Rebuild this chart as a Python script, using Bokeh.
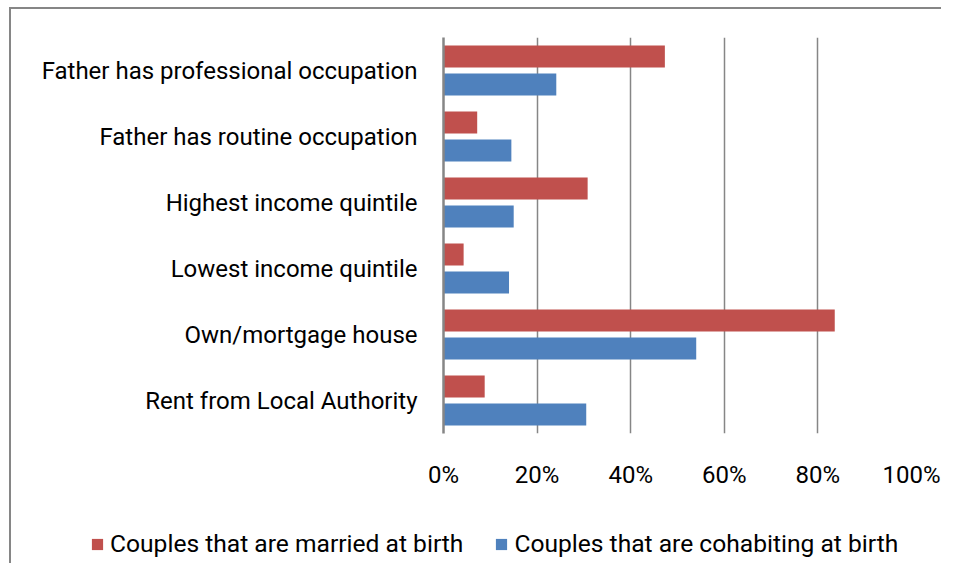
from bokeh.plotting import figure
from bokeh.layouts import column
from bokeh.models import (ColumnDataSource, FactorRange, Range1d, Legend, LegendItem,
                          PrintfTickFormatter, FixedTicker)
from bokeh.transform import dodge
from bokeh.embed import file_html
from bokeh.resources import INLINE

categories = ["Father has professional occupation", "Father has routine occupation",
              "Highest income quintile", "Lowest income quintile",
              "Own/mortgage house", "Rent from Local Authority"]
married = [47.3, 7.2, 30.8, 4.3, 83.6, 8.8]
cohabiting = [24.1, 14.5, 15.0, 14.0, 54.0, 30.5]
x_ticks = [0, 20, 40, 60, 80, 100]
series_names = ["Couples that are married at birth", "Couples that are cohabiting at birth"]

FONT = "Roboto"
FS = "24px"
RED = "#C0504D"
BLUE = "#4F81BD"
GRID = "#868686"

src = ColumnDataSource(dict(cat=categories, married=married, cohabiting=cohabiting))

p = figure(width=930, height=493, output_backend="svg", toolbar_location=None,
           y_range=FactorRange(factors=categories[::-1], range_padding=0),
           x_range=Range1d(0, 100),
           min_border_left=432, min_border_top=28, min_border_right=30, min_border_bottom=69)
p.frame_align = False

p.hbar(y=dodge("cat", 0.212, range=p.y_range), right="married", left=0, height=0.333,
       source=src, fill_color=RED, line_color=None)
p.hbar(y=dodge("cat", -0.212, range=p.y_range), right="cohabiting", left=0, height=0.333,
       source=src, fill_color=BLUE, line_color=None)

p.outline_line_color = None
p.background_fill_color = "white"
p.border_fill_color = "white"

p.ygrid.grid_line_color = None
p.xgrid.grid_line_color = GRID
p.xgrid.grid_line_width = 1.5
p.xaxis.ticker = FixedTicker(ticks=x_ticks)
p.xaxis.formatter = PrintfTickFormatter(format="%d%%")
p.xaxis.axis_line_color = None
p.xaxis.major_tick_line_color = None
p.xaxis.minor_tick_line_color = None
p.xaxis.major_label_standoff = 21
p.xaxis.major_label_text_font = FONT
p.xaxis.major_label_text_font_size = FS
p.xaxis.major_label_text_color = "black"

p.yaxis.axis_line_color = GRID
p.yaxis.axis_line_width = 2.5
p.yaxis.major_tick_line_color = None
p.yaxis.minor_tick_line_color = None
p.yaxis.major_label_standoff = 20
p.yaxis.major_label_text_font = FONT
p.yaxis.major_label_text_font_size = FS
p.yaxis.major_label_text_color = "black"

# legend strip (separate canvas so the legend is not clipped by the plot frame)
lp = figure(width=930, height=61, output_backend="svg", toolbar_location=None,
            x_axis_type=None, y_axis_type=None, min_border=0,
            x_range=Range1d(0, 1), y_range=Range1d(0, 1))
lp.frame_align = False
lp.outline_line_color = None
lp.background_fill_color = "white"
lp.border_fill_color = "white"
swatch = dict(y=[0], right=[0])
l1 = lp.hbar(y="y", right="right", left=0, height=0, source=ColumnDataSource(swatch),
             fill_color=RED, line_color=None)
l2 = lp.hbar(y="y", right="right", left=0, height=0, source=ColumnDataSource(swatch),
             fill_color=BLUE, line_color=None)

legend = Legend(items=[LegendItem(label=series_names[0], renderers=[l1]),
                       LegendItem(label=series_names[1], renderers=[l2])],
                location=(79, 5), orientation="horizontal",
                border_line_color=None, background_fill_alpha=0,
                padding=0, margin=0, spacing=31, glyph_width=14, glyph_height=14,
                label_standoff=6, label_text_font=FONT, label_text_font_size="24.6px",
                label_text_color="black", label_height=20)
lp.add_layout(legend, "center")

layout = column(p, lp, spacing=0,
                styles={"margin-left": "9px", "margin-top": "7px",
                        "border-left": "2px solid #868686", "border-top": "2px solid #868686"})

open("out.html", "w").write(file_html(layout, INLINE))
